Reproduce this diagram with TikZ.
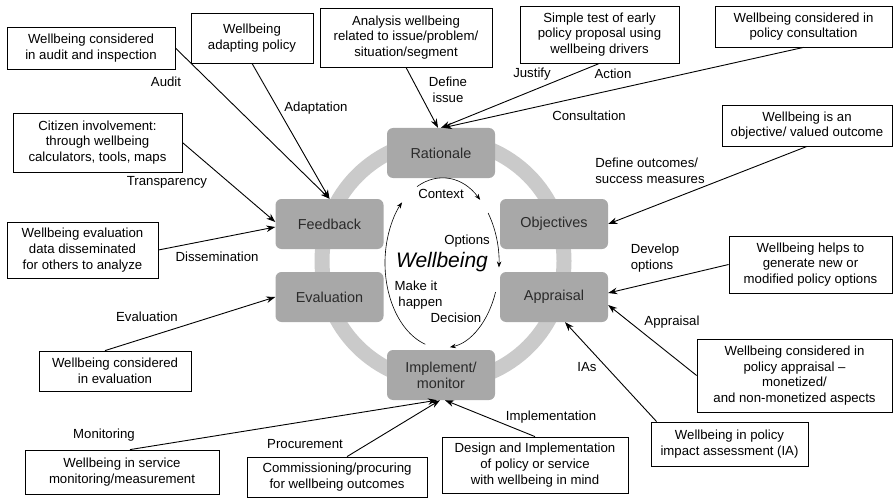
\documentclass[tikz,border=0pt]{standalone}
\usepackage{fontspec}
\setmainfont{Liberation Sans}
\usetikzlibrary{arrows.meta,calc}
\definecolor{stagegray}{HTML}{A8A8A8}
\definecolor{ringgray}{HTML}{CACACA}
\definecolor{stagetext}{HTML}{2A2A2A}
\begin{document}
\begin{tikzpicture}[x=1pt,y=-1pt,
  stage/.style={fill=stagegray, rounded corners=6pt, minimum width=108pt,
    minimum height=50pt, text=stagetext, align=center, inner sep=0pt,
    font=\fontsize{14.4}{16}\selectfont},
  wbox/.style={draw, line width=0.8pt, fill=white, align=center, inner sep=2pt,
    font=\fontsize{13.2}{15.6}\selectfont},
  lbl/.style={inner sep=0pt, align=center, font=\fontsize{13.2}{15.6}\selectfont},
  feed/.style={line width=0.9pt, -{Stealth[length=9pt,width=6.5pt]}},
  cyc/.style={line width=0.6pt, -{Stealth[length=6pt,width=4.5pt]}}]
\useasboundingbox (0,0) rectangle (894,500);

% policy cycle ring
\coordinate (ringc) at (443,261);
\draw[ringgray, line width=15pt] (ringc) circle[radius=121pt];

% stages of the cycle
\node[stage] (rationale)  at (441,153) {Rationale};
\node[stage] (feedback)   at (329.5,224) {Feedback};
\node[stage] (objectives) at (554,224) {Objectives};
\node[stage] (evaluation) at (329.5,297) {Evaluation};
\node[stage] (appraisal)  at (554,297) {Appraisal};
\node[stage] (implement)  at (441,375) {Implement/\\monitor};

% inner cycle arrows
\coordinate (ell) at (442,263);
\coordinate (ctxA) at ($(ell)+(116:57pt and 85pt)$);
\coordinate (optA) at ($(ell)+(36:57pt and 85pt)$);
\coordinate (decA) at ($(ell)+(-20:57pt and 85pt)$);
\coordinate (makA) at ($(ell)+(-107:57pt and 85pt)$);
\draw[cyc] (ctxA) arc[start angle=116, end angle=48, x radius=57pt, y radius=85pt];
\draw[cyc] (optA) arc[start angle=36, end angle=-3, x radius=57pt, y radius=85pt];
\draw[cyc] (decA) arc[start angle=-20, end angle=-82, x radius=57pt, y radius=85pt];
\draw[cyc] (makA) arc[start angle=-107, end angle=-225.5, x radius=57pt, y radius=85pt];

\node[lbl] (context) at (441,194) {Context};
\node[lbl] (options) at (467,241) {Options};
\node[lbl] (decision) at (456,318) {Decision};
\node[lbl] (makeit) at (416,295) {Make it\\\hspace*{9pt}happen};
\node[inner sep=0pt, font=\fontsize{21}{24}\selectfont\itshape] (wb) at (442,262) {Wellbeing};

% surrounding boxes
\node[wbox, minimum width=168pt, minimum height=42pt] (audit) at (91,48)
  {Wellbeing considered\\in audit and inspection};
\node[wbox, minimum width=122pt, minimum height=50pt] (adapt) at (252,38)
  {Wellbeing\\adapting policy};
\node[wbox, minimum width=172pt, minimum height=59pt] (analysis) at (406,37.5)
  {Analysis wellbeing\\related to issue/problem/\\situation/segment};
\node[wbox, minimum width=159pt, minimum height=57pt] (simple) at (599.5,34.5)
  {Simple test of early\\policy proposal using\\wellbeing drivers};
\node[wbox, minimum width=177pt, minimum height=41pt] (consult) at (803.5,26.5)
  {Wellbeing considered in\\policy consultation};
\node[wbox, minimum width=170pt, minimum height=41pt] (objbox) at (807,125.5)
  {Wellbeing is an\\objective/ valued outcome};
\node[wbox, minimum width=163pt, minimum height=57pt] (optbox) at (810.5,264.5)
  {Wellbeing helps to\\generate new or\\modified policy options};
\node[wbox, minimum width=195pt, minimum height=73pt] (apprbox) at (794.5,375.5)
  {Wellbeing considered in\\policy appraisal --\\monetized/\\and non-monetized aspects};
\node[wbox, minimum width=157pt, minimum height=44pt] (iabox) at (729.5,444)
  {Wellbeing in policy\\impact assessment (IA)};
\node[wbox, minimum width=186pt, minimum height=56pt] (design) at (535,465)
  {Design and Implementation\\of policy or service\\with wellbeing in mind};
\node[wbox, minimum width=180pt, minimum height=40pt] (comm) at (337,477)
  {Commissioning/procuring\\for wellbeing outcomes};
\node[wbox, minimum width=194pt, minimum height=44pt] (mon) at (122,472)
  {Wellbeing in service\\monitoring/measurement};
\node[wbox, minimum width=152pt, minimum height=40pt] (evalbox) at (115,371)
  {Wellbeing considered\\in evaluation};
\node[wbox, minimum width=151pt, minimum height=56pt] (diss) at (82.5,250)
  {Wellbeing evaluation\\data disseminated\\for others to analyze};
\node[wbox, minimum width=169pt, minimum height=59pt] (citizen) at (97.5,142.5)
  {Citizen involvement:\\through wellbeing\\calculators, tools, maps};

% connectors into the cycle
\draw[feed] (audit.east) -- (feedback.north);
\draw[feed] (adapt.south) -- (feedback.north);
\draw[feed] (analysis.south) -- ([xshift=-3pt]rationale.north);
\draw[feed] (simple.south) -- (rationale.north);
\draw[feed] (consult.south) -- ([xshift=2pt]rationale.north);
\draw[feed] (objbox.south) -- (objectives.east);
\draw[feed] (optbox.west) -- ([yshift=4pt]appraisal.east);
\draw[feed] (apprbox.west) -- ([yshift=-8pt]appraisal.east);
\draw[feed] ([xshift=6pt]iabox.north west) -- ([xshift=11pt]appraisal.south);
\draw[feed] (design.north) -- ([xshift=4pt]implement.south);
\draw[feed] ([xshift=10pt]comm.north) -- ([xshift=-1pt]implement.south);
\draw[feed] ([xshift=8pt]mon.north) -- ([xshift=-4pt]implement.south);
\draw[feed] ([xshift=-10pt]evalbox.north) -- (evaluation.west);
\draw[feed] (diss.east) -- ([yshift=-3pt]feedback.west);
\draw[feed] (citizen.east) -- ([yshift=2pt]feedback.west);

% connector labels
\node[lbl] (l-audit) at (166,82) {Audit};
\node[lbl] (l-adapt) at (316,108) {Adaptation};
\node[lbl] (l-define) at (448,90) {Define\\issue};
\node[lbl] (l-justify) at (532,74) {Justify};
\node[lbl] (l-action) at (613,74) {Action};
\node[lbl] (l-consult) at (589,116) {Consultation};
\node[lbl, align=left] (l-outcomes) at (650,171) {Define outcomes/\\success measures};
\node[lbl, align=left] (l-develop) at (655,258) {Develop\\options};
\node[lbl] (l-appraisal) at (672,322) {Appraisal};
\node[lbl] (l-ias) at (587,367) {IAs};
\node[lbl] (l-impl) at (551,417) {Implementation};
\node[lbl] (l-proc) at (305,444) {Procurement};
\node[lbl] (l-mon) at (104,435) {Monitoring};
\node[lbl] (l-eval) at (147,317) {Evaluation};
\node[lbl] (l-diss) at (217,257) {Dissemination};
\node[lbl] (l-transp) at (167,182) {Transparency};
\end{tikzpicture}
\end{document}
